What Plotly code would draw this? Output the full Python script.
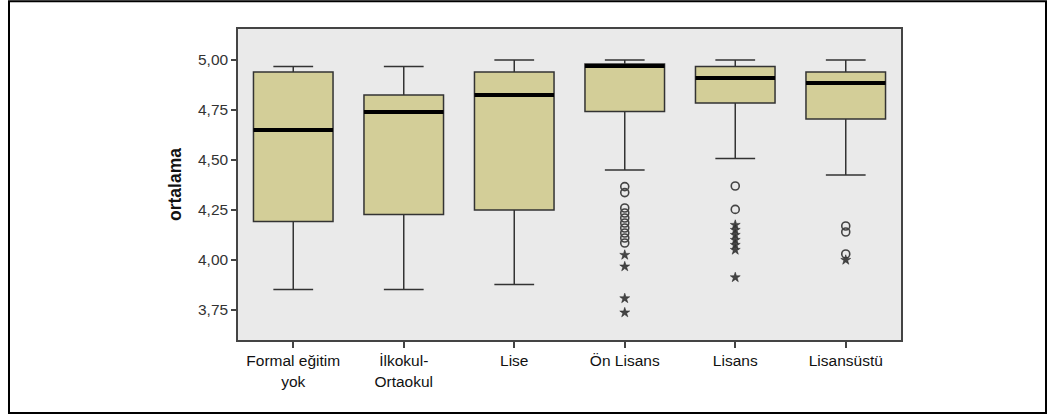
import plotly.graph_objects as go

# Education groups and their box-plot statistics for "ortalama"
categories = ["Formal eğitim<br>yok", "İlkokul-<br>Ortaokul", "Lise", "Ön Lisans", "Lisans", "Lisansüstü"]
lower_whisker = [3.853, 3.853, 3.878, 4.45, 4.508, 4.425]
q1 = [4.192, 4.228, 4.25, 4.742, 4.785, 4.705]
median = [4.65, 4.74, 4.825, 4.97, 4.91, 4.885]
q3 = [4.94, 4.825, 4.94, 4.98, 4.967, 4.94]
upper_whisker = [4.967, 4.967, 5.0, 5.0, 5.0, 5.0]

# Outliers (circles) and extreme values (stars) by group index
outliers_onlisans = [4.367, 4.337, 4.26, 4.235, 4.21, 4.185, 4.16, 4.135, 4.11, 4.085]
extremes_onlisans = [4.025, 3.967, 3.808, 3.737]
outliers_lisans = [4.37, 4.253]
extremes_lisans = [4.175, 4.15, 4.125, 4.10, 4.075, 4.05, 3.913]
outliers_lisansustu = [4.17, 4.14, 4.03]
extremes_lisansustu = [4.0]

y_ticks = [3.75, 4.0, 4.25, 4.5, 4.75, 5.0]
y_tick_text = ["3,75", "4,00", "4,25", "4,50", "4,75", "5,00"]

BOX_WIDTH = 0.72
FILL = "#D3CE98"
EDGE = "#333333"
FONT = "Liberation Sans, Arial, sans-serif"

positions = list(range(len(categories)))

fig = go.Figure()

fig.add_trace(go.Box(
    x=positions, q1=q1, median=median, q3=q3,
    lowerfence=lower_whisker, upperfence=upper_whisker,
    width=BOX_WIDTH, whiskerwidth=0.5,
    fillcolor=FILL, line=dict(color=EDGE, width=1.5),
    boxpoints=False, showlegend=False, hoverinfo="skip",
))

# Thick median bars
mx, my = [], []
for p, m in zip(positions, median):
    mx += [p - BOX_WIDTH / 2, p + BOX_WIDTH / 2, None]
    my += [m, m, None]
fig.add_trace(go.Scatter(x=mx, y=my, mode="lines",
                         line=dict(color="black", width=4),
                         showlegend=False, hoverinfo="skip"))

groups = [
    (3, outliers_onlisans, extremes_onlisans),
    (4, outliers_lisans, extremes_lisans),
    (5, outliers_lisansustu, extremes_lisansustu),
]
for idx, circ, star in groups:
    fig.add_trace(go.Scatter(
        x=[idx] * len(circ), y=circ, mode="markers",
        marker=dict(symbol="circle-open", size=8, color="#444444",
                    line=dict(width=1.6, color="#444444")),
        showlegend=False, hoverinfo="skip"))
    fig.add_trace(go.Scatter(
        x=[idx] * len(star), y=star, mode="markers",
        marker=dict(symbol="star", size=7.5, color="#444444",
                    line=dict(width=0.5, color="#222222")),
        showlegend=False, hoverinfo="skip"))

fig.update_layout(
    width=1055, height=415,
    margin=dict(l=238, r=154, t=29, b=75),
    paper_bgcolor="white", plot_bgcolor="#EAEAEA",
    font=dict(family=FONT, size=15, color="#222222"),
    xaxis=dict(
        range=[-0.5, 5.5], tickvals=positions, ticktext=categories,
        showgrid=False, zeroline=False,
        showline=True, linecolor="#444444", linewidth=1.5, mirror=True,
        ticks="outside", ticklen=6, tickcolor="#444444", tickwidth=1.5,
        tickfont=dict(size=15.5, color="#111111"),
    ),
    yaxis=dict(
        range=[3.6, 5.155], tickvals=y_ticks, ticktext=y_tick_text,
        showgrid=False, zeroline=False,
        showline=True, linecolor="#444444", linewidth=1.5, mirror=True,
        ticks="outside", ticklen=5, tickcolor="#444444", tickwidth=1.5,
        tickfont=dict(size=15.5, color="#333333"),
        title=dict(text="<b>ortalama</b>", font=dict(size=17.5, color="#111111"),
                   standoff=12),
    ),
    shapes=[dict(
        type="rect", xref="paper", yref="paper",
        x0=-0.3454, x1=1.2187, y0=-0.2347, y1=1.089,
        line=dict(color="black", width=2), fillcolor="rgba(0,0,0,0)",
        layer="below",
    )],
)

fig.write_html("out.html")
